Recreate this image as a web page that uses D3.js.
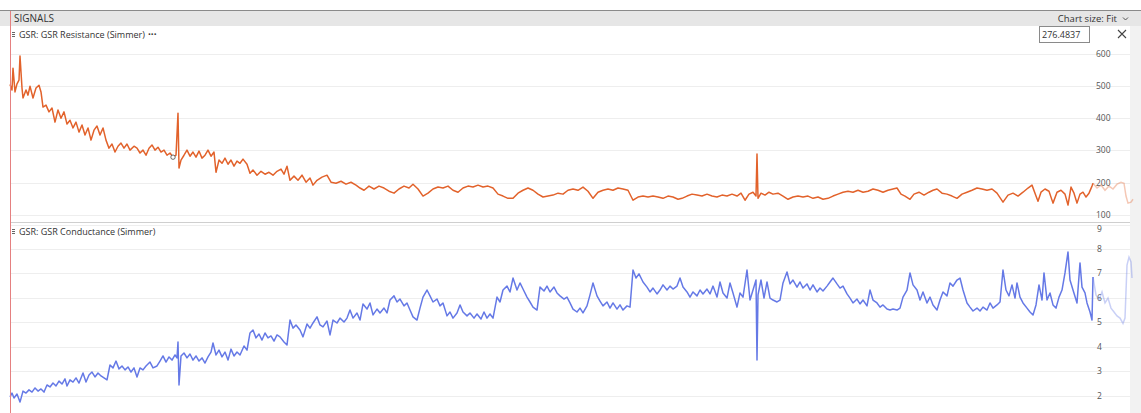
<!DOCTYPE html>
<html>
<head>
<meta charset="utf-8">
<script src="https://cdn.jsdelivr.net/npm/d3@7"></script>
<style>
  body { margin: 0; background: #fff; }
  text { font-family: "Open Sans", "Noto Sans", sans-serif; fill: #333; }
</style>
</head>
<body>
<script>
// GSR signals panel: resistance (top) and conductance (bottom)

// [elapsed seconds, kOhm]
var resistance = [
  [0,505],[2,488],[3,556],[5,482],[7,507],[9,519],[10,594],[12,494],[13,463],[16,488],[18,472],[20,500],
  [23,463],[26,494],[29,503],[31,482],[33,435],[36,441],[39,420],[42,432],[45,388],[48,426],[51,400],[54,420],
  [57,382],[60,394],[63,370],[66,388],[69,357],[72,379],[75,348],[78,370],[81,332],[84,363],[87,376],[90,348],
  [93,370],[96,332],[99,307],[102,320],[105,295],[108,313],[111,323],[114,307],[117,320],[120,301],[124,313],
  [127,307],[130,292],[133,301],[136,285],[139,307],[142,317],[145,301],[148,310],[151,295],[154,301],[157,285],
  [160,292],[163,279],[166,285],[168,416],[169,245],[171,270],[174,285],[177,301],[180,282],[183,295],[186,279],
  [189,298],[192,276],[195,285],[198,301],[201,282],[204,295],[206,232],[209,270],[212,260],[215,276],[218,257],
  [221,270],[224,251],[227,267],[230,260],[233,273],[237,257],[240,229],[243,239],[247,223],[251,235],[255,226],
  [259,232],[263,223],[267,235],[271,242],[274,226],[277,251],[280,207],[284,220],[288,207],[292,223],[296,201],
  [300,214],[303,192],[307,207],[312,217],[317,223],[321,201],[326,198],[331,204],[336,195],[341,201],[346,192],
  [350,183],[354,176],[359,189],[364,180],[369,189],[374,183],[379,173],[384,167],[389,180],[394,189],[399,183],
  [403,195],[408,180],[413,158],[418,167],[423,180],[428,186],[433,183],[438,189],[443,176],[448,170],[453,183],
  [458,189],[463,186],[468,192],[473,186],[478,189],[483,183],[488,164],[493,158],[498,151],[503,151],[508,167],
  [513,176],[518,183],[523,176],[528,164],[533,155],[538,158],[543,161],[548,167],[553,164],[558,176],[563,180],
  [568,176],[573,186],[578,173],[583,151],[588,170],[593,176],[598,180],[603,176],[608,183],[613,180],[618,176],
  [623,145],[628,155],[633,158],[638,155],[643,158],[648,155],[653,151],[658,158],[663,155],[668,148],[672,151],
  [677,158],[682,164],[687,161],[692,158],[697,164],[702,158],[707,155],[712,161],[717,158],[722,164],[727,158],
  [731,167],[735,145],[739,164],[743,170],[746,158],[747,289],[748,151],[751,167],[755,161],[759,170],[763,164],
  [768,167],[773,158],[778,148],[783,155],[788,158],[793,155],[798,158],[803,151],[808,155],[813,148],[818,151],
  [823,158],[828,164],[833,170],[838,173],[843,170],[848,176],[853,170],[858,173],[863,180],[868,176],[873,170],
  [878,176],[883,180],[887,183],[891,164],[895,158],[900,148],[904,164],[909,170],[914,161],[919,170],[923,176],
  [927,180],[932,167],[937,164],[942,158],[947,151],[952,164],[957,170],[962,176],[967,183],[972,180],[977,176],
  [982,180],[987,167],[993,139],[998,161],[1003,167],[1008,158],[1013,170],[1018,183],[1022,192],[1026,158],
  [1028,142],[1031,170],[1035,180],[1039,173],[1043,136],[1047,170],[1051,176],[1055,164],[1058,130],[1061,186],
  [1064,167],[1067,136],[1070,164],[1073,170],[1076,155],[1079,167],[1082,189],[1083,198],[1087,183],[1091,192],
  [1095,176],[1099,189],[1103,180],[1107,195],[1111,201],[1114,198],[1116,158],[1118,136],[1121,139],[1123,148]
];

// [elapsed seconds, microsiemens]
var conductance = [
  [0,1.94],[2,2.10],[4,1.90],[7,2.06],[10,1.73],[13,2.18],[16,2.10],[19,2.23],[22,2.14],[25,2.31],[28,2.18],
  [31,2.27],[34,2.14],[37,2.43],[40,2.35],[43,2.51],[46,2.39],[49,2.59],[52,2.47],[55,2.68],[57,2.39],[60,2.64],
  [63,2.55],[66,2.72],[69,2.51],[73,2.92],[76,2.55],[79,2.84],[82,2.96],[85,2.76],[88,2.92],[91,2.80],[94,2.72],
  [97,2.64],[100,3.25],[103,3.13],[106,3.41],[109,3.09],[112,3.21],[115,3.05],[118,3.17],[121,2.96],[124,3.13],
  [127,2.76],[130,3.13],[133,3.05],[136,3.21],[140,3.37],[143,3.13],[147,3.21],[150,3.41],[153,3.62],[156,3.37],
  [159,3.58],[162,3.45],[165,3.66],[167,3.54],[168,4.19],[169,2.43],[171,3.62],[174,3.74],[177,3.54],[180,3.70],
  [183,3.45],[186,3.62],[189,3.41],[192,3.54],[195,3.33],[198,3.58],[201,3.78],[203,4.15],[206,3.66],[209,3.86],
  [212,3.58],[215,3.78],[218,3.45],[221,3.90],[224,3.62],[227,3.78],[230,3.66],[234,4.03],[237,3.86],[240,4.56],
  [243,4.68],[246,4.36],[249,4.52],[252,4.27],[255,4.56],[258,4.36],[261,4.44],[264,4.23],[267,4.48],[270,4.40],
  [274,4.19],[277,4.07],[280,5.09],[283,4.76],[286,4.89],[290,4.68],[293,4.40],[297,4.93],[300,4.76],[303,4.97],
  [307,5.22],[310,4.89],[313,4.81],[317,5.05],[320,4.48],[323,5.09],[327,4.97],[330,5.17],[334,5.01],[337,5.17],
  [340,5.50],[343,5.17],[347,5.38],[350,5.09],[353,5.75],[357,5.54],[360,5.79],[363,5.30],[367,5.54],[370,5.38],
  [374,5.58],[377,5.38],[380,5.91],[384,6.08],[387,5.83],[390,5.95],[394,5.67],[397,5.79],[400,5.50],[403,5.22],
  [407,5.09],[410,5.58],[413,6.03],[417,6.32],[420,6.08],[423,5.83],[427,5.95],[430,5.67],[433,5.79],[437,5.26],
  [440,5.42],[443,5.17],[447,5.38],[450,5.71],[453,5.42],[457,5.26],[460,5.38],[464,5.17],[467,5.34],[471,5.13],
  [474,5.42],[477,5.17],[480,5.34],[483,5.17],[487,6.03],[490,5.83],[493,6.32],[497,6.48],[500,6.24],[503,6.81],
  [507,6.32],[510,6.61],[513,6.36],[517,6.03],[520,5.83],[523,5.62],[527,5.50],[530,6.44],[534,6.28],[537,6.48],
  [540,6.24],[544,6.44],[547,6.20],[550,6.08],[554,5.95],[557,6.03],[560,5.79],[563,5.54],[567,5.42],[570,5.58],
  [573,5.38],[577,5.67],[580,6.12],[583,6.61],[587,6.08],[590,5.87],[593,5.67],[597,5.83],[600,5.58],[603,5.79],
  [607,5.54],[610,5.71],[613,5.50],[617,5.67],[620,5.62],[623,7.14],[626,6.81],[629,6.98],[633,6.65],[637,6.44],
  [640,6.24],[643,6.40],[647,6.16],[650,6.32],[653,6.53],[657,6.32],[660,6.48],[663,6.36],[667,6.48],[670,6.81],
  [673,6.44],[677,6.24],[680,6.03],[683,6.24],[687,6.08],[690,6.32],[693,6.16],[697,6.36],[700,6.16],[703,6.48],
  [707,6.03],[710,6.65],[713,6.20],[717,5.99],[720,6.61],[723,6.20],[727,5.62],[730,6.20],[733,6.03],[737,7.14],
  [740,5.91],[743,6.32],[746,6.73],[747,3.45],[748,6.12],[751,6.73],[754,5.99],[757,6.65],[760,5.99],[763,5.91],
  [767,5.83],[770,5.91],[773,6.61],[777,7.06],[780,6.57],[783,6.73],[787,6.44],[790,6.65],[793,6.40],[797,6.57],
  [800,6.32],[803,6.53],[807,6.24],[810,6.40],[813,6.28],[817,6.48],[820,6.65],[823,6.81],[827,6.57],[830,6.40],
  [833,6.48],[837,6.16],[840,5.99],[843,5.79],[847,5.95],[850,5.75],[853,5.91],[857,5.67],[860,6.32],[863,5.91],
  [867,5.79],[870,5.62],[873,5.71],[877,5.54],[880,5.50],[883,5.54],[887,5.50],[890,5.58],[893,6.03],[897,6.32],
  [900,7.02],[903,6.53],[907,6.32],[910,5.91],[913,6.24],[917,5.79],[920,6.03],[923,5.71],[927,5.50],[930,5.91],
  [933,6.24],[937,6.08],[940,6.61],[943,6.48],[947,6.73],[950,6.81],[953,6.32],[957,5.79],[960,5.62],[963,5.46],
  [967,5.58],[970,5.46],[973,5.62],[977,5.50],[980,5.79],[983,5.58],[987,5.71],[990,5.83],[993,7.14],[996,6.32],
  [999,6.08],[1002,6.53],[1005,5.99],[1007,6.61],[1010,6.03],[1013,5.79],[1017,5.58],[1020,5.42],[1023,5.30],
  [1026,5.71],[1029,6.53],[1032,5.91],[1034,7.02],[1037,5.91],[1040,6.20],[1043,5.71],[1046,5.58],[1049,6.03],
  [1052,6.32],[1055,7.02],[1058,7.88],[1060,6.73],[1063,6.32],[1067,5.79],[1070,7.43],[1072,6.44],[1075,6.20],
  [1077,5.79],[1080,5.42],[1082,5.09],[1083,6.85],[1086,6.12],[1089,5.91],[1092,6.24],[1095,5.79],[1098,5.99],
  [1101,5.58],[1104,5.42],[1107,5.26],[1110,5.17],[1113,4.95],[1115,5.17],[1117,7.34],[1119,7.67],[1121,7.47],[1122,6.81]
];

var resTicks = [100, 200, 300, 400, 500, 600];
var condTicks = [2, 3, 4, 5, 6, 7, 8, 9];
var cursorT = 1083;         // playhead, line is faded after it
var cursorValue = "276.4837";
var markerT = 163;          // little event marker on resistance

var w = 1141, h = 413;
var left = 10, right = 1130;

var svg = d3.select("body").append("svg")
  .attr("width", w)
  .attr("height", h);

// x scale shared by both panels
var x = d3.scaleLinear().domain([0, 1123]).range([left, 1133]);

// y scales
var yRes = d3.scaleLinear().domain([100, 600]).range([214.7, 54]);
var yCond = d3.scaleLinear().domain([2, 8]).range([395.5, 249]);

// header bar
svg.append("rect").attr("x", 0).attr("y", 10).attr("width", w).attr("height", 16).style("fill", "#e6e6e6");
svg.append("line").attr("x1", 0).attr("x2", w).attr("y1", 10.5).attr("y2", 10.5).style("stroke", "#8a8a8a");
svg.append("text").attr("x", 14).attr("y", 21.5).style("font-size", "10px").text("SIGNALS");
svg.append("text").attr("x", 1117).attr("y", 21.5).attr("text-anchor", "end").style("font-size", "9.5px").text("Chart size:  Fit");
svg.append("path").attr("d", "M1123,17.5 l2.5,2.5 l2.5,-2.5").style("fill", "none").style("stroke", "#555");

// scrollbar strip on right
svg.append("rect").attr("x", right).attr("y", 26).attr("width", w - right).attr("height", h - 26).style("fill", "#f2f2f2");

// gridlines
svg.selectAll(".gridRes").data(resTicks).enter().append("line")
  .attr("class", "gridRes")
  .attr("x1", left).attr("x2", right)
  .attr("y1", function(d){ return Math.round(yRes(d)) + 0.5; })
  .attr("y2", function(d){ return Math.round(yRes(d)) + 0.5; })
  .style("stroke", "#eeeeee");
svg.selectAll(".gridCond").data(condTicks).enter().append("line")
  .attr("class", "gridCond")
  .attr("x1", left).attr("x2", right)
  .attr("y1", function(d){ return Math.round(yCond(d)) + 0.5; })
  .attr("y2", function(d){ return Math.round(yCond(d)) + 0.5; })
  .style("stroke", "#eeeeee");

// panel separator
svg.append("line").attr("x1", left).attr("x2", right).attr("y1", 222.5).attr("y2", 222.5).style("stroke", "#cfcfcf");

// tick labels
svg.selectAll(".labRes").data(resTicks).enter().append("text")
  .attr("class", "labRes")
  .attr("x", 1096)
  .attr("y", function(d){ return yRes(d) + 3; })
  .style("font-size", "8.5px").style("fill", "#555")
  .text(function(d){ return d; });
svg.selectAll(".labCond").data(condTicks).enter().append("text")
  .attr("class", "labCond")
  .attr("x", 1097)
  .attr("y", function(d){ return Math.max(yCond(d), 229) + 3; })
  .style("font-size", "8.5px").style("fill", "#555")
  .text(function(d){ return d; });

// panel titles
function title(y, label, dots){
  var g = svg.append("g");
  for (var i = 0; i < 3; i++) {
    g.append("rect").attr("x", 12).attr("y", y - 6 + i * 2).attr("width", 3).attr("height", 1).style("fill", "#666");
  }
  g.append("text").attr("x", 19).attr("y", y).style("font-size", "9px").text(label);
  if (dots) g.append("text").attr("x", 148).attr("y", y).style("font-size", "10px").style("font-weight", "bold").text("···");
}
title(38, "GSR: GSR Resistance (Simmer)", true);
title(235, "GSR: GSR Conductance (Simmer)", false);

// value box + close
svg.append("rect").attr("x", 1039.5).attr("y", 26.5).attr("width", 50).attr("height", 16).style("fill", "#fff").style("stroke", "#8a8a8a");
svg.append("text").attr("x", 1042).attr("y", 38).style("font-size", "9px").text(cursorValue);
svg.append("path").attr("d", "M1118,30 l8,8 M1126,30 l-8,8").style("stroke", "#444").style("stroke-width", 1.1);

// lines
var lineRes = d3.line().x(function(d){ return x(d[0]); }).y(function(d){ return yRes(d[1]); });
var lineCond = d3.line().x(function(d){ return x(d[0]); }).y(function(d){ return yCond(d[1]); });

function draw(data, gen, color){
  svg.append("path")
    .datum(data.filter(function(d){ return d[0] >= cursorT; }))
    .attr("d", gen)
    .style("fill", "none").style("stroke", color).style("stroke-opacity", 0.35).style("stroke-width", 1.5);
  svg.append("path")
    .datum(data.filter(function(d){ return d[0] <= cursorT; }))
    .attr("d", gen)
    .style("fill", "none").style("stroke", color).style("stroke-width", 1.5).style("stroke-linejoin", "round");
}
draw(resistance, lineRes, "#e2622b");
draw(conductance, lineCond, "#6579e6");

// event marker
var m = resistance.filter(function(d){ return d[0] === markerT; })[0];
svg.append("circle").attr("cx", x(m[0])).attr("cy", yRes(m[1])).attr("r", 2.2)
  .style("fill", "#fff").style("stroke", "#444").style("stroke-width", 0.8);

// red left edge
svg.append("line").attr("x1", 10.5).attr("x2", 10.5).attr("y1", 11).attr("y2", h).style("stroke", "#e58080");
</script>
</body>
</html>
